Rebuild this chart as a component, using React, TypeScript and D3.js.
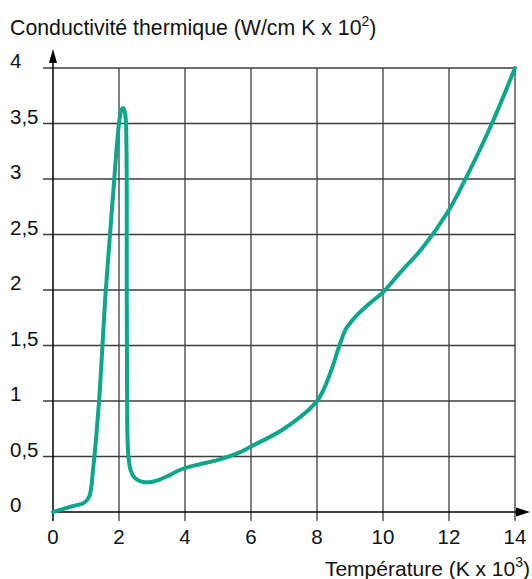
import React from "react";
import * as d3 from "d3";

const temperatures = [0, 0.5, 0.95, 1.1, 1.22, 1.4, 1.6, 1.8, 2.0, 2.07, 2.13, 2.19, 2.225, 2.235, 2.245, 2.28, 2.36, 2.47, 2.72, 3.05, 3.45, 3.85, 4.3, 5.0, 5.6, 6.0, 7.0, 8.0, 8.4, 8.68, 8.88, 9.17, 9.6, 10.0, 10.5, 11.2, 12.0, 12.6, 13.3, 14.0];
const conductivity = [0, 0.045, 0.085, 0.14, 0.4, 1.02, 2.0, 2.78, 3.5, 3.62, 3.64, 3.58, 3.3, 2.0, 1.0, 0.52, 0.37, 0.31, 0.27, 0.275, 0.32, 0.38, 0.42, 0.47, 0.53, 0.59, 0.75, 1.0, 1.25, 1.5, 1.65, 1.76, 1.88, 1.98, 2.15, 2.38, 2.72, 3.06, 3.5, 4.0];

const xTicks = [0, 2, 4, 6, 8, 10, 12, 14];
const yTicks = [0, 0.5, 1, 1.5, 2, 2.5, 3, 3.5, 4];
const yTickLabels = ["0", "0,5", "1", "1,5", "2", "2,5", "3", "3,5", "4"];

const W = 532;
const H = 579;
const FONT = "'Liberation Sans', Arial, Helvetica, sans-serif";

export default function App() {
  const x = d3.scaleLinear().domain([0, 14]).range([53, 515]);
  const y = d3.scaleLinear().domain([0, 4]).range([512, 68]);
  const pts = temperatures.map((t, i) => [t, conductivity[i]] as [number, number]);
  const line = d3
    .line<[number, number]>()
    .x((d) => x(d[0]))
    .y((d) => y(d[1]))
    .curve(d3.curveCatmullRom.alpha(0.5));

  const gridColor = "#3c3c3c";
  return (
    <svg
      width={W}
      height={H}
      style={{ position: "absolute", left: 0, top: 0, background: "#fff" }}
      fontFamily={FONT}
    >
      {yTicks.filter((v) => v > 0).map((v) => (
        <line key={"h" + v} x1={43} x2={x(14)} y1={y(v)} y2={y(v)} stroke={gridColor} strokeWidth={1.3} />
      ))}
      {xTicks.filter((v) => v > 0).map((v) => (
        <line key={"v" + v} x1={x(v)} x2={x(v)} y1={y(4)} y2={y(0) + 9} stroke={gridColor} strokeWidth={1.3} />
      ))}
      <line x1={x(0)} x2={x(0)} y1={y(0) + 9} y2={58} stroke="#000" strokeWidth={1.5} />
      <path d={`M${x(0)},49 L${x(0) - 4},63 L${x(0) + 4},63 Z`} fill="#000" />
      <line x1={x(0)} x2={520} y1={y(0)} y2={y(0)} stroke="#000" strokeWidth={1.5} />
      <path d={`M530,${y(0)} L516,${y(0) - 4.5} L516,${y(0) + 4.5} Z`} fill="#000" />

      <path d={line(pts) || ""} fill="none" stroke="#0ca68a" strokeWidth={4} strokeLinejoin="round" strokeLinecap="round" />

      {yTicks.map((v, i) => (
        <text key={"yl" + v} x={10} y={y(v)} fontSize={20.5} fill="#111">
          {yTickLabels[i]}
        </text>
      ))}
      {xTicks.map((v) => (
        <text key={"xl" + v} x={x(v)} y={544} fontSize={20.5} textAnchor="middle" fill="#111">
          {v}
        </text>
      ))}

      <text x={10} y={35} fontSize={21.3} fill="#111">
        Conductivité thermique (W/cm K x 10
        <tspan dy={-9} fontSize={14}>2</tspan>
        <tspan dy={9}>)</tspan>
      </text>
      <text x={530} y={576} fontSize={21} textAnchor="end" fill="#111">
        Température (K x 10
        <tspan dy={-9} fontSize={14}>3</tspan>
        <tspan dy={9}>)</tspan>
      </text>
    </svg>
  );
}
